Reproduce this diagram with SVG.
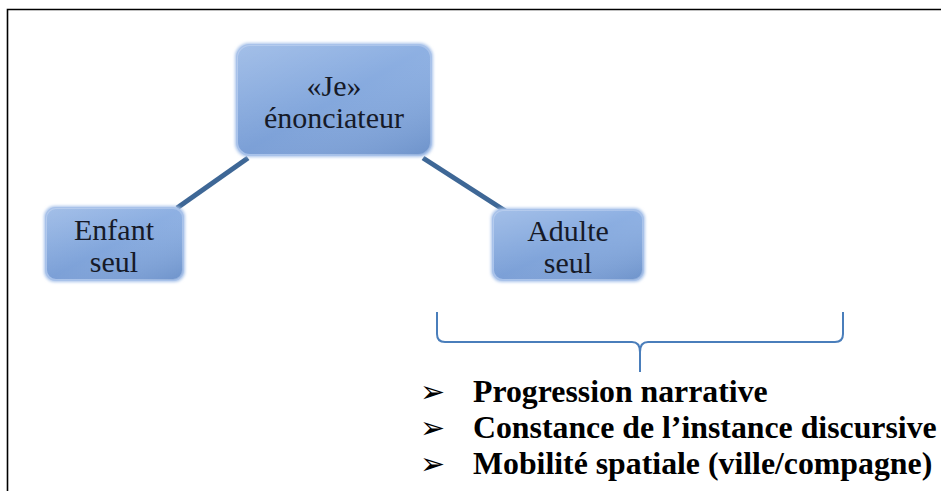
<svg xmlns="http://www.w3.org/2000/svg" width="941" height="491" viewBox="0 0 941 491">
  <defs>
    <linearGradient id="boxFill" x1="0" y1="0" x2="0" y2="1">
      <stop offset="0" stop-color="#8fb1e3"/>
      <stop offset="0.5" stop-color="#84a8dd"/>
      <stop offset="1" stop-color="#7b9fd6"/>
    </linearGradient>
    <linearGradient id="bevel" x1="0" y1="0" x2="1" y2="1">
      <stop offset="0" stop-color="#ffffff" stop-opacity="0.18"/>
      <stop offset="0.5" stop-color="#ffffff" stop-opacity="0"/>
      <stop offset="1" stop-color="#2f5a96" stop-opacity="0.18"/>
    </linearGradient>
    <filter id="glow" x="-10%" y="-10%" width="120%" height="120%">
      <feFlood flood-color="#a9c3ea"/>
      <feComposite operator="in" in2="SourceAlpha"/>
      <feMorphology operator="dilate" radius="1"/>
      <feGaussianBlur stdDeviation="1.5" result="g"/>
      <feMerge><feMergeNode in="g"/><feMergeNode in="SourceGraphic"/></feMerge>
    </filter>
  </defs>
  <style>
    .box { fill: url(#boxFill); stroke: #a8c2ea; stroke-width: 2; filter: url(#glow); }
    .bev { fill: url(#bevel); stroke: none; }
    .lbl { font-family: "Liberation Serif", "Times New Roman", serif; font-size: 30px; fill: #161a28; text-anchor: middle; }
    .conn { stroke: #3e6796; stroke-width: 5; fill: none; }
    .brace { stroke: #4a7ebb; stroke-width: 2; fill: none; }
    .item { font-family: "Liberation Serif", "Times New Roman", serif; font-size: 31.8px; font-weight: bold; fill: #000; }
    .bul { font-family: "DejaVu Sans", sans-serif; font-size: 30px; fill: #000; }
  </style>
  <rect width="941" height="491" fill="#ffffff"/>
  <path d="M7.5 491 V9.5 H941" fill="none" stroke="#000" stroke-width="1.6"/>

  <g id="connectors">
    <line class="conn" x1="248" y1="158" x2="177" y2="208"/>
    <line class="conn" x1="423" y1="158" x2="507" y2="212"/>
    <path class="brace" d="M437 312 V334 Q437 342 445 342 H632 Q640 342 640 352 V372 M640 352 Q640 342 648 342 H835 Q843 342 843 334 V312"/>
  </g>

  <g id="node-je">
    <rect class="box" x="237" y="45" width="194" height="110" rx="13"/>
    <rect class="bev" x="237" y="45" width="194" height="110" rx="13"/>
    <text class="lbl" x="334" y="96">«Je»</text>
    <text class="lbl" x="334" y="128">énonciateur</text>
  </g>
  <g id="node-enfant">
    <rect class="box" x="46" y="208" width="137" height="72" rx="10"/>
    <rect class="bev" x="46" y="208" width="137" height="72" rx="10"/>
    <text class="lbl" x="114" y="240">Enfant</text>
    <text class="lbl" x="114" y="272">seul</text>
  </g>
  <g id="node-adulte">
    <rect class="box" x="493" y="210" width="150" height="70" rx="10"/>
    <rect class="bev" x="493" y="210" width="150" height="70" rx="10"/>
    <text class="lbl" x="568" y="241">Adulte</text>
    <text class="lbl" x="568" y="273">seul</text>
  </g>

  <g id="list">
    <text class="bul" x="420" y="402">➢</text>
    <text class="item" x="473" y="402">Progression narrative</text>
    <text class="bul" x="420" y="438">➢</text>
    <text class="item" x="473" y="438">Constance de l’instance discursive</text>
    <text class="bul" x="420" y="474">➢</text>
    <text class="item" x="473" y="474">Mobilité spatiale (ville/compagne)</text>
  </g>
</svg>
